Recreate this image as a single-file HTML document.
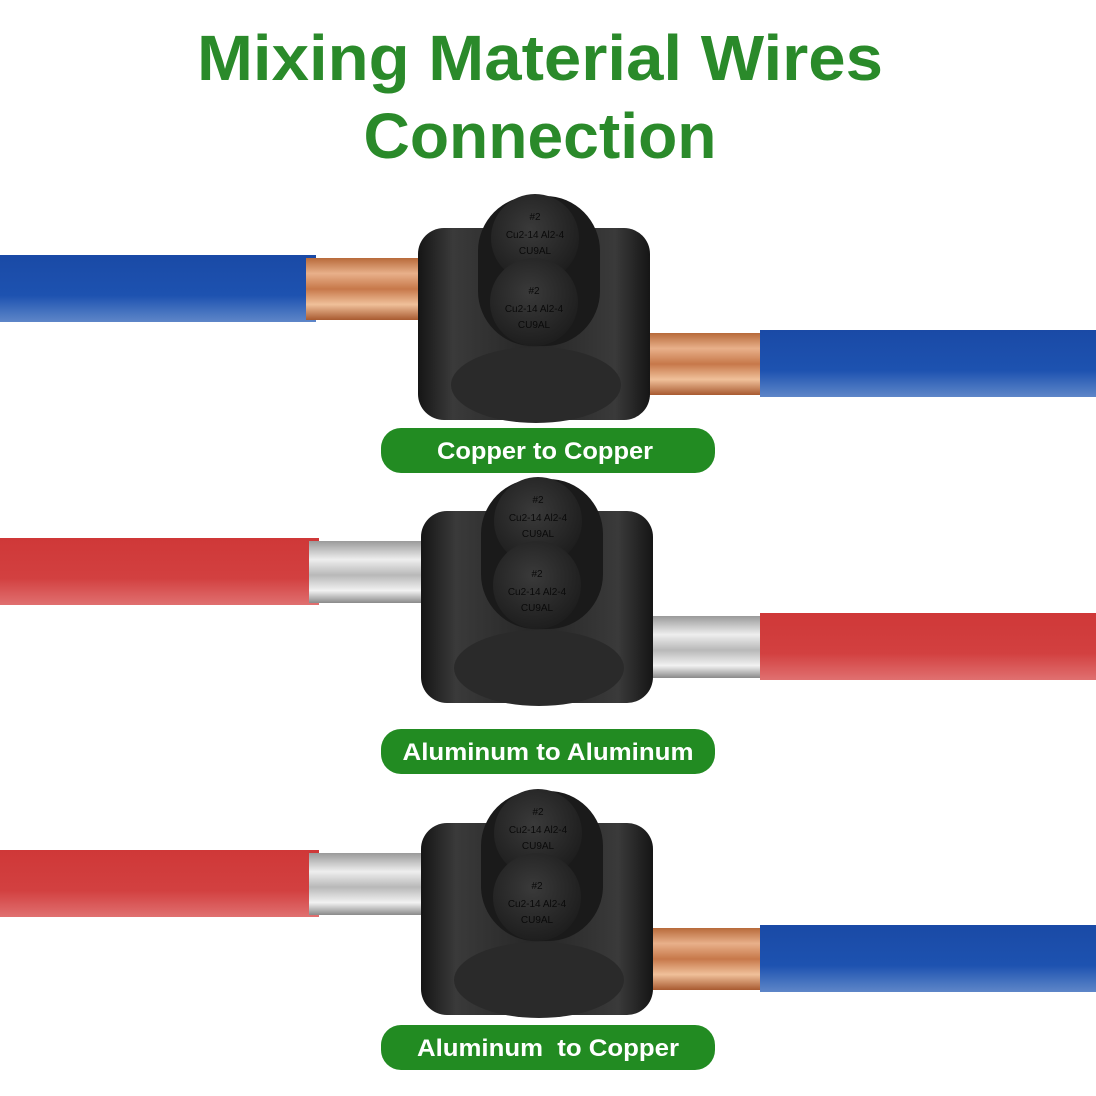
<!DOCTYPE html>
<html><head><meta charset="utf-8"><style>
html,body{margin:0;padding:0;background:#fff}
svg{display:block}
text{font-family:"Liberation Sans","DejaVu Sans",sans-serif}
</style></head><body>
<svg width="1096" height="1096" viewBox="0 0 1096 1096" xmlns="http://www.w3.org/2000/svg">
<defs>
<linearGradient id="blue" x1="0" y1="0" x2="0" y2="1"><stop offset="0" stop-color="#1a4aa6"/><stop offset=".6" stop-color="#1d52b0"/><stop offset="1" stop-color="#5e86c8"/></linearGradient>
<linearGradient id="red" x1="0" y1="0" x2="0" y2="1"><stop offset="0" stop-color="#cf3838"/><stop offset=".6" stop-color="#d24040"/><stop offset="1" stop-color="#e07070"/></linearGradient>
<linearGradient id="cu" x1="0" y1="0" x2="0" y2="1"><stop offset="0" stop-color="#b86a3a"/><stop offset=".25" stop-color="#e8b08a"/><stop offset=".5" stop-color="#c7784a"/><stop offset=".75" stop-color="#f0c09a"/><stop offset="1" stop-color="#a85a30"/></linearGradient>
<linearGradient id="al" x1="0" y1="0" x2="0" y2="1"><stop offset="0" stop-color="#9a9a9a"/><stop offset=".3" stop-color="#eeeeee"/><stop offset=".55" stop-color="#b8b8b8"/><stop offset=".8" stop-color="#f2f2f2"/><stop offset="1" stop-color="#8a8a8a"/></linearGradient>
<linearGradient id="body" x1="0" y1="0" x2="1" y2="0"><stop offset="0" stop-color="#151515"/><stop offset=".15" stop-color="#3a3a3a"/><stop offset=".5" stop-color="#262626"/><stop offset=".85" stop-color="#3a3a3a"/><stop offset="1" stop-color="#151515"/></linearGradient>
<radialGradient id="cap" cx=".45" cy=".4" r=".6"><stop offset="0" stop-color="#3a3a3a"/><stop offset="1" stop-color="#1e1e1e"/></radialGradient>
</defs>

<text x="540" y="80" text-anchor="middle" font-size="64" font-weight="bold" fill="#2a8a2a" textLength="686" lengthAdjust="spacingAndGlyphs">Mixing Material Wires</text>
<text x="540" y="158" text-anchor="middle" font-size="64" font-weight="bold" fill="#2a8a2a" textLength="353" lengthAdjust="spacingAndGlyphs">Connection</text>

<!-- Row 1 -->
<g>
<rect x="0" y="255" width="316" height="67" fill="url(#blue)"/>
<rect x="306" y="258" width="120" height="62" fill="url(#cu)"/>
<rect x="648" y="333" width="120" height="62" fill="url(#cu)"/>
<rect x="760" y="330" width="336" height="67" fill="url(#blue)"/>
<rect x="418" y="228" width="232" height="192" rx="26" fill="url(#body)"/>
<ellipse cx="536" cy="385" rx="85" ry="38" fill="#2a2a2a"/>
<rect x="478" y="196" width="122" height="150" rx="55" fill="#1a1a1a"/>
<circle cx="535" cy="238" r="44" fill="url(#cap)"/>
<circle cx="534" cy="302" r="44" fill="url(#cap)"/>
<g font-size="10" fill="#0a0a0a" text-anchor="middle"><text x="535" y="220">#2</text><text x="535" y="238">Cu2-14 Al2-4</text><text x="535" y="254">CU9AL</text><text x="534" y="294">#2</text><text x="534" y="312">Cu2-14 Al2-4</text><text x="534" y="328">CU9AL</text></g>
<rect x="381" y="428" width="334" height="45" rx="20" fill="#228b22"/>
<text x="545" y="459" text-anchor="middle" font-size="24" font-weight="bold" fill="#fff" textLength="216" lengthAdjust="spacingAndGlyphs">Copper to Copper</text>
</g>

<!-- Row 2 -->
<g transform="translate(3,283)">
<rect x="-3" y="255" width="319" height="67" fill="url(#red)"/>
<rect x="306" y="258" width="120" height="62" fill="url(#al)"/>
<rect x="648" y="333" width="120" height="62" fill="url(#al)"/>
<rect x="757" y="330" width="336" height="67" fill="url(#red)"/>
<rect x="418" y="228" width="232" height="192" rx="26" fill="url(#body)"/>
<ellipse cx="536" cy="385" rx="85" ry="38" fill="#2a2a2a"/>
<rect x="478" y="196" width="122" height="150" rx="55" fill="#1a1a1a"/>
<circle cx="535" cy="238" r="44" fill="url(#cap)"/>
<circle cx="534" cy="302" r="44" fill="url(#cap)"/>
<g font-size="10" fill="#0a0a0a" text-anchor="middle"><text x="535" y="220">#2</text><text x="535" y="238">Cu2-14 Al2-4</text><text x="535" y="254">CU9AL</text><text x="534" y="294">#2</text><text x="534" y="312">Cu2-14 Al2-4</text><text x="534" y="328">CU9AL</text></g>
</g>
<rect x="381" y="729" width="334" height="45" rx="20" fill="#228b22"/>
<text x="548" y="760" text-anchor="middle" font-size="24" font-weight="bold" fill="#fff" textLength="291" lengthAdjust="spacingAndGlyphs">Aluminum to Aluminum</text>

<!-- Row 3 -->
<g transform="translate(3,595)">
<rect x="-3" y="255" width="319" height="67" fill="url(#red)"/>
<rect x="306" y="258" width="120" height="62" fill="url(#al)"/>
<rect x="648" y="333" width="120" height="62" fill="url(#cu)"/>
<rect x="757" y="330" width="336" height="67" fill="url(#blue)"/>
<rect x="418" y="228" width="232" height="192" rx="26" fill="url(#body)"/>
<ellipse cx="536" cy="385" rx="85" ry="38" fill="#2a2a2a"/>
<rect x="478" y="196" width="122" height="150" rx="55" fill="#1a1a1a"/>
<circle cx="535" cy="238" r="44" fill="url(#cap)"/>
<circle cx="534" cy="302" r="44" fill="url(#cap)"/>
<g font-size="10" fill="#0a0a0a" text-anchor="middle"><text x="535" y="220">#2</text><text x="535" y="238">Cu2-14 Al2-4</text><text x="535" y="254">CU9AL</text><text x="534" y="294">#2</text><text x="534" y="312">Cu2-14 Al2-4</text><text x="534" y="328">CU9AL</text></g>
</g>
<rect x="381" y="1025" width="334" height="45" rx="20" fill="#228b22"/>
<text x="548" y="1056" text-anchor="middle" font-size="24" font-weight="bold" fill="#fff" xml:space="preserve" textLength="262" lengthAdjust="spacingAndGlyphs">Aluminum  to Copper</text>
</svg>
</body></html>
